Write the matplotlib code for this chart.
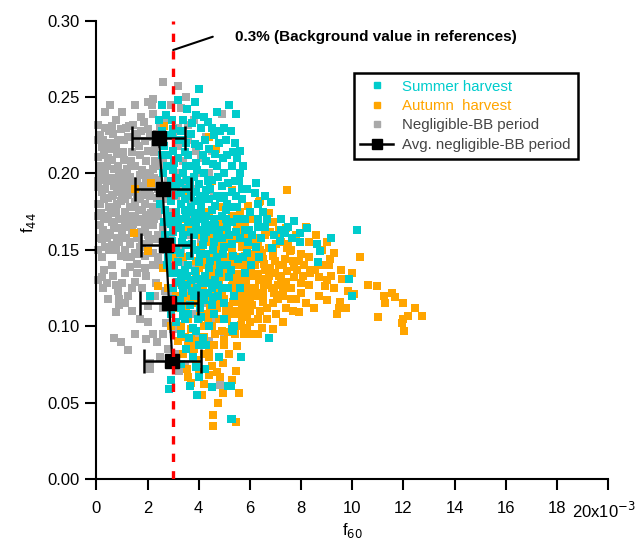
import numpy as np
import matplotlib
matplotlib.use('Agg')
import matplotlib.pyplot as plt
import matplotlib.transforms as mtransforms
from matplotlib.lines import Line2D

plt.rcParams['font.family'] = ['Liberation Sans', 'DejaVu Sans']

# f60 values are written in units of 1e-3, f44 as plain fraction
gray_pts = [
    (2.59, 0.260), (3.19, 0.257), (2.03, 0.247), (2.22, 0.249), (2.18, 0.245), (0.54, 0.245), (0.78, 0.235),
    (1.76, 0.237), (2.22, 0.239), (1.29, 0.231), (0.50, 0.228), (0.07, 0.232), (2.03, 0.229), (4.92, 0.239),
    (2.70, 0.235), (3.30, 0.243), (3.60, 0.232),
    (0.54, 0.220), (1.09, 0.222), (1.60, 0.226), (1.90, 0.221), (0.07, 0.211), (0.50, 0.216), (0.31, 0.204),
    (0.10, 0.200), (0.70, 0.203), (1.09, 0.209), (1.40, 0.214), (1.70, 0.212), (2.00, 0.215), (2.30, 0.208),
    (1.20, 0.203), (0.90, 0.198), (1.50, 0.205), (1.80, 0.202), (2.10, 0.200), (2.50, 0.205), (2.80, 0.212),
    (3.20, 0.218), (3.60, 0.222), (3.90, 0.215), (4.30, 0.224), (0.30, 0.212),
    (0.07, 0.191), (0.07, 0.180), (0.19, 0.174), (0.15, 0.166), (0.47, 0.161), (0.58, 0.174), (0.90, 0.190),
    (1.00, 0.186), (1.13, 0.165), (1.33, 0.154), (1.68, 0.168), (1.80, 0.154), (0.40, 0.195), (0.60, 0.185),
    (0.80, 0.180), (1.20, 0.193), (1.40, 0.188), (1.60, 0.195), (1.90, 0.190), (2.10, 0.185), (2.30, 0.192),
    (1.30, 0.178), (1.50, 0.172), (1.80, 0.176), (2.00, 0.170), (2.20, 0.178), (2.40, 0.172), (0.90, 0.170),
    (1.10, 0.175), (0.30, 0.183), (0.70, 0.165), (1.00, 0.160), (1.40, 0.162), (1.70, 0.183), (2.50, 0.183),
    (2.60, 0.165), (2.80, 0.195), (2.90, 0.175), (3.10, 0.185), (3.30, 0.170), (3.50, 0.195), (3.70, 0.180),
    (2.00, 0.160), (2.30, 0.157), (2.60, 0.150),
    (0.40, 0.205), (0.60, 0.209), (0.80, 0.213), (1.00, 0.200), (1.30, 0.198), (1.70, 0.199), (2.00, 0.195),
    (2.20, 0.203), (0.20, 0.188), (0.50, 0.178), (0.70, 0.192), (1.10, 0.183), (1.50, 0.181), (1.90, 0.180),
    (2.40, 0.196), (0.30, 0.170), (0.60, 0.168), (0.80, 0.158), (1.20, 0.168), (1.60, 0.158), (1.90, 0.165),
    (2.20, 0.166), (2.40, 0.160), (1.10, 0.150), (1.50, 0.148), (1.90, 0.146), (0.60, 0.140), (0.40, 0.158),
    (2.70, 0.183), (2.90, 0.160), (3.10, 0.200), (3.40, 0.208), (3.60, 0.160), (3.90, 0.190), (4.20, 0.175),
    (4.40, 0.200), (4.60, 0.185), (4.00, 0.130), (4.30, 0.115), (3.80, 0.108), (0.05, 0.150), (0.05, 0.130),
    (0.90, 0.155), (0.50, 0.150), (0.20, 0.145), (0.30, 0.137), (1.20, 0.145), (1.60, 0.141), (1.36, 0.145),
    (1.91, 0.138), (1.95, 0.133), (1.52, 0.129), (1.60, 0.135), (2.34, 0.128), (0.23, 0.132), (0.27, 0.125),
    (0.86, 0.123), (0.90, 0.118), (0.90, 0.114), (1.13, 0.115), (0.78, 0.109), (2.03, 0.113), (2.10, 0.118),
    (2.50, 0.140), (2.20, 0.148), (3.00, 0.135), (3.30, 0.150), (3.50, 0.125), (3.00, 0.120), (2.70, 0.123),
    (3.80, 0.140), (4.10, 0.155), (1.10, 0.135), (1.40, 0.125),
    (2.03, 0.1025), (0.70, 0.092), (0.97, 0.0895), (1.25, 0.0842), (1.95, 0.0914), (2.38, 0.0895),
    (2.10, 0.0757), (2.10, 0.072), (2.73, 0.102), (3.24, 0.0705), (3.47, 0.075), (3.59, 0.088),
    (4.85, 0.0613), (5.00, 0.094), (3.20, 0.082), (2.60, 0.095), (4.00, 0.093),
    (0.15, 0.225), (0.35, 0.230), (0.65, 0.226), (0.95, 0.229), (1.25, 0.224), (1.45, 0.232), (1.85, 0.234),
    (2.35, 0.226), (0.20, 0.217), (0.45, 0.210), (0.75, 0.218), (1.05, 0.214), (1.35, 0.208), (1.65, 0.218),
    (1.95, 0.208), (2.25, 0.214), (2.55, 0.219), (0.15, 0.205), (0.55, 0.197), (0.85, 0.205), (1.15, 0.197),
    (1.45, 0.195), (1.75, 0.192), (2.05, 0.188), (2.35, 0.184), (0.25, 0.196), (0.35, 0.190), (0.65, 0.186),
    (0.95, 0.182), (1.25, 0.186), (1.55, 0.188), (1.85, 0.186), (2.15, 0.193), (0.15, 0.180), (0.45, 0.172),
    (0.75, 0.175), (1.05, 0.170), (1.35, 0.172), (1.65, 0.176), (1.95, 0.173), (2.25, 0.170), (0.25, 0.163),
    (0.55, 0.160), (0.85, 0.164), (1.15, 0.158), (1.45, 0.167), (1.75, 0.162), (2.05, 0.155), (2.45, 0.177),
    (0.35, 0.152), (0.75, 0.150), (1.30, 0.139), (1.70, 0.152), (2.40, 0.145), (0.10, 0.158), (0.65, 0.133),
    (1.00, 0.128), (1.25, 0.120), (0.45, 0.118), (2.60, 0.112), (2.40, 0.190), (2.60, 0.210), (3.00, 0.225),
    (3.40, 0.190), (3.80, 0.170), (4.00, 0.200), (3.20, 0.145), (2.80, 0.140), (3.40, 0.160), (4.40, 0.140),
    (4.80, 0.165), (3.60, 0.115), (3.00, 0.098), (2.80, 0.085), (4.40, 0.090), (4.60, 0.105), (0.35, 0.240),
    (1.00, 0.240), (1.50, 0.245), (2.50, 0.230),
    (0.05, 0.222), (0.05, 0.195), (0.05, 0.172), (0.25, 0.222), (0.60, 0.231), (0.85, 0.222), (1.15, 0.230),
    (1.55, 0.220), (1.75, 0.228), (2.10, 0.224), (2.30, 0.219), (0.35, 0.200), (0.65, 0.197), (0.95, 0.193),
    (1.25, 0.190), (1.60, 0.184), (1.95, 0.197), (2.25, 0.197), (0.45, 0.184), (0.80, 0.188), (1.15, 0.188),
    (1.45, 0.178), (1.75, 0.170), (2.15, 0.174), (0.20, 0.157), (0.60, 0.153), (0.95, 0.146), (1.30, 0.155),
    (1.65, 0.147), (2.20, 0.140), (0.40, 0.128), (0.75, 0.127), (1.80, 0.125), (2.30, 0.120), (1.40, 0.110),
    (1.70, 0.105), (2.20, 0.095), (1.50, 0.095), (2.50, 0.080), (2.90, 0.205), (3.20, 0.230), (2.90, 0.245),
    (3.50, 0.250), (3.80, 0.235), (4.10, 0.210), (4.50, 0.215), (4.10, 0.185), (4.40, 0.165), (3.50, 0.140),
    (3.90, 0.120),
]

autumn_pts = [
    (2.65, 0.231), (4.41, 0.224), (4.69, 0.216), (2.15, 0.194), (1.48, 0.161), (5.31, 0.189), (1.50, 0.190),
    (2.03, 0.149), (2.59, 0.138), (2.42, 0.126), (7.44, 0.189), (6.40, 0.182), (6.75, 0.174), (7.40, 0.164),
    (5.00, 0.200), (4.50, 0.195), (3.80, 0.205), (3.50, 0.185), (4.90, 0.178), (5.60, 0.175), (6.10, 0.170),
    (3.30, 0.170),
    (5.50, 0.165), (5.90, 0.160), (6.30, 0.158), (6.80, 0.162), (7.20, 0.155), (7.60, 0.150), (8.00, 0.147),
    (4.50, 0.160), (4.90, 0.155), (5.30, 0.150), (5.70, 0.152), (6.10, 0.147), (6.50, 0.144), (6.90, 0.149),
    (7.30, 0.140), (7.70, 0.143), (8.10, 0.140), (3.80, 0.150), (4.20, 0.145), (4.60, 0.148), (5.00, 0.142),
    (5.40, 0.140), (5.80, 0.144), (6.20, 0.140), (6.60, 0.137), (7.00, 0.135), (8.56, 0.137), (8.40, 0.137),
    (8.09, 0.133), (7.74, 0.132), (7.42, 0.129), (7.23, 0.131), (7.74, 0.1385), (7.15, 0.140), (7.93, 0.143),
    (7.38, 0.144), (7.58, 0.149), (6.92, 0.146), (6.57, 0.141), (6.80, 0.138), (6.33, 0.154), (6.49, 0.148),
    (6.76, 0.151), (7.03, 0.154), (7.46, 0.151), (6.76, 0.174), (6.37, 0.181), (5.94, 0.179), (7.15, 0.163),
    (7.50, 0.154), (5.82, 0.146), (5.55, 0.140), (6.14, 0.142),
    (3.20, 0.135), (3.60, 0.130), (4.00, 0.138), (4.40, 0.133), (4.80, 0.128), (5.20, 0.132), (5.60, 0.128),
    (6.00, 0.133), (3.40, 0.120), (3.80, 0.125), (4.20, 0.120), (4.60, 0.123), (5.00, 0.118), (5.40, 0.122),
    (5.80, 0.117), (6.20, 0.125), (6.06, 0.133), (5.70, 0.133), (5.59, 0.125), (5.35, 0.116), (5.35, 0.130),
    (6.64, 0.131), (6.52, 0.1215), (6.52, 0.116), (6.68, 0.112), (6.02, 0.121), (6.02, 0.119), (5.86, 0.112),
    (5.90, 0.108), (5.70, 0.106), (5.66, 0.101), (5.59, 0.108), (6.88, 0.125), (7.07, 0.1205), (7.11, 0.118),
    (3.00, 0.112), (3.50, 0.110), (3.90, 0.115), (4.30, 0.108), (4.70, 0.112), (5.10, 0.105), (5.50, 0.110),
    (4.00, 0.105), (4.50, 0.100), (4.90, 0.097), (5.30, 0.100), (3.70, 0.098), (4.20, 0.093), (4.60, 0.088),
    (3.30, 0.100), (2.80, 0.125), (3.00, 0.145),
    (10.32, 0.145), (10.63, 0.127), (10.98, 0.126), (11.57, 0.1215), (11.69, 0.119), (11.26, 0.120),
    (11.30, 0.115), (12.00, 0.115), (12.47, 0.112), (12.74, 0.1065), (12.19, 0.107), (12.00, 0.105),
    (11.96, 0.102), (12.02, 0.097), (11.02, 0.106), (9.14, 0.144), (9.57, 0.137), (9.60, 0.131),
    (9.77, 0.131), (9.18, 0.133), (8.95, 0.126), (9.85, 0.123), (10.08, 0.121), (9.53, 0.116), (9.47, 0.112),
    (9.77, 0.112), (9.42, 0.108), (7.93, 0.109), (7.03, 0.108), (6.68, 0.1045), (6.49, 0.099), (5.90, 0.099),
    (5.78, 0.095), (5.51, 0.087), (5.47, 0.071), (5.59, 0.056), (5.47, 0.037),
    (8.80, 0.150), (9.30, 0.148), (8.30, 0.155), (9.00, 0.155), (8.60, 0.160), (8.20, 0.165),
    (4.57, 0.042), (4.57, 0.035), (4.77, 0.0495), (4.96, 0.056), (4.14, 0.055), (3.70, 0.063), (4.84, 0.067),
    (4.41, 0.068), (4.53, 0.074), (4.96, 0.076), (3.55, 0.072), (3.59, 0.067), (3.40, 0.082), (4.22, 0.082),
    (3.90, 0.078), (5.20, 0.082), (4.00, 0.070), (3.20, 0.090), (3.60, 0.087), (5.00, 0.088),
    (4.70, 0.140), (5.10, 0.136), (5.50, 0.134), (5.90, 0.138), (6.30, 0.134), (6.70, 0.129), (7.10, 0.127),
    (7.60, 0.125), (8.00, 0.122), (4.30, 0.128), (4.90, 0.123), (5.30, 0.126), (5.70, 0.121), (6.10, 0.114),
    (6.40, 0.110), (6.90, 0.115), (7.40, 0.112), (7.80, 0.118), (8.30, 0.127), (8.70, 0.120), (9.00, 0.117),
    (3.90, 0.133), (4.50, 0.117), (5.20, 0.113), (5.60, 0.116), (4.80, 0.105), (5.40, 0.095), (5.00, 0.091),
    (6.00, 0.103), (6.30, 0.095), (4.20, 0.100), (3.60, 0.105), (3.70, 0.092), (4.40, 0.080), (4.70, 0.070),
    (5.30, 0.065), (4.20, 0.062), (3.80, 0.085), (6.40, 0.150), (6.00, 0.153), (5.60, 0.157), (5.20, 0.145),
    (6.60, 0.160), (7.00, 0.143), (7.80, 0.160), (8.30, 0.145), (8.70, 0.132), (8.00, 0.128), (9.30, 0.125),
    (6.90, 0.168), (6.30, 0.165), (5.80, 0.168), (5.30, 0.172), (4.80, 0.168), (4.40, 0.175), (4.00, 0.160),
    (3.60, 0.165), (3.40, 0.145), (3.10, 0.128), (2.90, 0.100), (5.90, 0.125), (6.50, 0.118), (7.30, 0.120),
    (8.50, 0.112), (9.10, 0.140), (10.00, 0.135),
    (4.10, 0.152), (4.40, 0.155), (4.80, 0.150), (5.15, 0.155), (5.45, 0.145), (5.75, 0.140), (6.05, 0.137),
    (6.35, 0.130), (6.75, 0.133), (7.15, 0.133), (7.45, 0.136), (7.85, 0.137), (4.30, 0.140), (4.60, 0.135),
    (4.95, 0.132), (5.25, 0.137), (5.55, 0.130), (5.85, 0.130), (6.25, 0.120), (6.55, 0.127), (6.95, 0.122),
    (7.30, 0.125), (4.15, 0.125), (4.45, 0.112), (4.75, 0.116), (5.05, 0.110), (5.35, 0.108), (5.70, 0.113),
    (6.00, 0.110), (6.30, 0.105), (3.75, 0.118), (4.05, 0.110), (4.35, 0.103), (4.65, 0.095), (5.15, 0.096),
    (5.60, 0.100), (6.10, 0.095), (3.90, 0.090), (4.40, 0.085), (3.45, 0.093), (3.35, 0.115), (3.60, 0.120),
    (3.10, 0.120), (3.90, 0.143), (4.55, 0.165), (5.05, 0.162), (5.75, 0.162), (6.10, 0.155), (6.55, 0.165),
    (7.05, 0.160), (5.40, 0.158), (8.35, 0.135), (8.80, 0.140), (9.00, 0.130), (8.20, 0.115), (7.70, 0.110),
    (7.30, 0.103), (6.90, 0.098), (7.60, 0.118),
]

summer_pts = [
    (4.02, 0.255), (3.87, 0.247), (2.58, 0.245), (3.55, 0.242), (3.90, 0.238), (5.47, 0.239), (4.38, 0.234),
    (2.46, 0.235), (2.74, 0.238), (3.40, 0.235), (3.00, 0.229), (3.30, 0.228), (3.70, 0.226), (4.10, 0.230),
    (4.60, 0.225), (2.70, 0.225), (3.10, 0.222), (3.50, 0.220), (4.00, 0.218), (4.40, 0.216), (4.80, 0.220),
    (5.43, 0.220), (5.63, 0.215), (5.63, 0.200), (5.56, 0.195), (5.10, 0.212), (5.30, 0.205),
    (2.80, 0.212), (3.20, 0.210), (3.60, 0.212), (3.90, 0.207), (4.30, 0.208), (4.70, 0.205), (5.00, 0.200),
    (2.60, 0.200), (3.00, 0.202), (3.40, 0.200), (3.80, 0.198), (4.20, 0.200), (4.50, 0.196), (4.90, 0.192),
    (5.30, 0.188), (2.70, 0.190), (3.10, 0.192), (3.50, 0.190), (3.90, 0.188), (4.30, 0.189), (4.70, 0.185),
    (5.10, 0.180), (5.50, 0.178), (2.50, 0.180), (2.90, 0.182), (3.30, 0.180), (3.70, 0.178), (4.10, 0.180),
    (4.50, 0.176), (4.90, 0.172), (5.30, 0.168), (2.80, 0.172), (3.20, 0.170), (3.60, 0.168), (4.00, 0.170),
    (4.40, 0.166), (4.80, 0.163), (5.20, 0.160), (5.60, 0.158), (3.00, 0.162), (3.40, 0.160), (3.80, 0.160),
    (4.20, 0.158), (4.60, 0.155), (5.00, 0.152), (5.96, 0.163), (6.25, 0.1935), (5.90, 0.190), (6.84, 0.181),
    (6.68, 0.170), (6.33, 0.170), (7.23, 0.170), (7.74, 0.169), (6.60, 0.165), (8.24, 0.164), (10.20, 0.163),
    (9.18, 0.158), (8.64, 0.154), (7.97, 0.161), (7.35, 0.161), (8.75, 0.149), (8.68, 0.142), (9.89, 0.131),
    (10.00, 0.120), (7.23, 0.163), (7.38, 0.161), (7.97, 0.155), (7.66, 0.158), (7.19, 0.156), (6.45, 0.158),
    (5.92, 0.155), (6.25, 0.152), (5.82, 0.163), (5.55, 0.144), (6.88, 0.151), (6.00, 0.175), (5.70, 0.183),
    (6.30, 0.180),
    (3.00, 0.215), (3.50, 0.205), (4.00, 0.193), (4.40, 0.183), (3.30, 0.187), (3.70, 0.185), (2.90, 0.195),
    (3.60, 0.175), (4.10, 0.175), (3.20, 0.165), (2.70, 0.160), (4.60, 0.170), (5.00, 0.185), (5.40, 0.195),
    (3.90, 0.165), (4.30, 0.172), (3.10, 0.150), (3.50, 0.153), (3.90, 0.150), (4.30, 0.147), (4.70, 0.145),
    (5.10, 0.140),
    (2.80, 0.145), (3.20, 0.142), (3.60, 0.140), (4.00, 0.142), (4.40, 0.138), (4.80, 0.135), (5.20, 0.132),
    (2.90, 0.135), (3.30, 0.132), (3.70, 0.130), (4.10, 0.128), (4.50, 0.125), (3.00, 0.125), (3.40, 0.122),
    (3.80, 0.120), (4.20, 0.118), (5.39, 0.120), (4.53, 0.114), (4.22, 0.117), (2.11, 0.120),
    (3.48, 0.1045), (3.98, 0.105), (3.76, 0.099), (3.61, 0.092), (4.18, 0.092), (4.30, 0.088), (4.00, 0.088),
    (5.35, 0.097), (5.39, 0.100), (5.66, 0.080), (3.79, 0.080), (4.26, 0.072), (4.02, 0.067), (3.67, 0.061),
    (3.95, 0.055), (4.53, 0.060), (5.16, 0.061), (5.27, 0.039), (2.93, 0.065), (2.85, 0.059), (3.12, 0.103),
    (6.76, 0.092), (5.30, 0.098), (5.25, 0.061), (5.31, 0.039), (3.30, 0.112), (2.90, 0.108), (3.50, 0.085),
    (2.65, 0.218), (3.05, 0.207), (3.45, 0.214), (3.85, 0.219), (4.25, 0.222), (4.65, 0.213), (5.05, 0.222),
    (2.75, 0.205), (3.15, 0.197), (3.55, 0.196), (3.95, 0.202), (4.35, 0.195), (4.75, 0.198), (5.15, 0.194),
    (5.50, 0.210), (2.60, 0.187), (3.05, 0.186), (3.45, 0.183), (3.85, 0.182), (4.25, 0.184), (4.65, 0.179),
    (5.05, 0.176), (5.45, 0.185), (2.70, 0.176), (3.10, 0.175), (3.50, 0.171), (3.90, 0.174), (4.30, 0.162),
    (4.70, 0.160), (5.10, 0.165), (5.50, 0.170), (2.90, 0.167), (3.30, 0.164), (3.70, 0.162), (4.10, 0.163),
    (4.50, 0.163), (4.90, 0.158), (5.30, 0.154), (2.95, 0.156), (3.35, 0.155), (3.75, 0.154), (4.15, 0.153),
    (4.55, 0.150), (4.95, 0.147), (5.35, 0.146), (2.85, 0.150), (3.25, 0.148), (3.65, 0.146), (4.05, 0.147),
    (4.45, 0.143), (4.85, 0.140), (5.25, 0.137), (3.05, 0.139), (3.45, 0.137), (3.85, 0.136), (4.25, 0.133),
    (4.65, 0.130), (3.15, 0.129), (3.55, 0.127), (3.95, 0.125), (4.35, 0.122), (4.75, 0.120), (3.25, 0.117),
    (3.65, 0.114), (4.05, 0.112), (3.60, 0.108), (4.60, 0.108), (5.80, 0.170), (6.10, 0.160), (6.50, 0.175),
    (5.90, 0.148), (6.20, 0.187), (5.75, 0.205), (5.00, 0.230), (5.20, 0.245), (4.70, 0.240), (3.20, 0.248),
    (6.30, 0.165), (5.80, 0.135), (5.60, 0.125), (4.90, 0.125), (4.40, 0.100), (3.90, 0.097), (3.30, 0.095),
    (4.80, 0.080), (3.90, 0.073), (3.30, 0.075),
    (2.55, 0.228), (2.95, 0.235), (3.35, 0.222), (3.75, 0.233), (4.20, 0.237), (4.50, 0.230), (4.85, 0.228),
    (5.25, 0.228), (2.55, 0.212), (2.95, 0.225), (3.75, 0.205), (4.15, 0.212), (4.55, 0.206), (4.95, 0.210),
    (5.35, 0.214), (2.80, 0.192), (3.25, 0.194), (3.65, 0.193), (4.05, 0.185), (4.45, 0.190), (4.85, 0.184),
    (5.25, 0.178), (5.70, 0.190), (2.65, 0.168), (3.05, 0.170), (3.45, 0.176), (3.85, 0.170), (4.25, 0.167),
    (4.65, 0.166), (5.05, 0.170), (5.45, 0.162), (2.75, 0.140), (3.15, 0.135), (3.55, 0.133), (3.95, 0.131),
    (4.35, 0.128), (4.75, 0.127), (5.15, 0.125), (2.95, 0.118), (3.35, 0.127), (3.75, 0.123), (4.15, 0.122),
    (4.55, 0.119), (5.00, 0.115), (5.00, 0.105), (4.10, 0.106), (3.40, 0.107), (5.75, 0.145), (6.05, 0.140),
    (6.35, 0.145), (6.60, 0.185), (6.95, 0.160), (7.50, 0.165),
]

# averages of the negligible-BB period
avg_f60 = [2.44, 2.59, 2.71, 2.84, 2.97]
avg_f44 = [0.2232, 0.1898, 0.1531, 0.1154, 0.0772]
avg_err = [1.04, 1.09, 0.98, 1.15, 1.10]

bg_value = 3.0  # 0.3 % background in references
x_ticks = [0, 2, 4, 6, 8, 10, 12, 14, 16, 18, 20]
x_ticklabels = ['0', '2', '4', '6', '8', '10', '12', '14', '16', '18', '20x10$^{-3}$']
y_ticks = [0.00, 0.05, 0.10, 0.15, 0.20, 0.25, 0.30]

c_summer = '#00CCCC'
c_autumn = '#FFA500'
c_gray = '#A9A9A9'


def unpack(pts):
    a = np.array(pts)
    return a[:, 0] * 1e-3, a[:, 1]


fig = plt.figure(figsize=(6.38, 5.43), dpi=100)
ax = fig.add_axes([0.1511, 0.1179, 0.8019, 0.8440])

gx, gy = unpack(gray_pts)
ox, oy = unpack(autumn_pts)
sx, sy = unpack(summer_pts)
ms = 34
ax.scatter(gx, gy, s=ms, marker='s', color=c_gray, linewidths=0, zorder=1, clip_on=False)
ax.scatter(ox, oy, s=ms, marker='s', color=c_autumn, linewidths=0, zorder=2)
ax.scatter(sx, sy, s=ms, marker='s', color=c_summer, linewidths=0, zorder=3)

ax.errorbar(np.array(avg_f60) * 1e-3, avg_f44, xerr=np.array(avg_err) * 1e-3,
            color='black', marker='s', markersize=10, linewidth=1.6, elinewidth=1.8,
            capsize=8.5, capthick=1.8, zorder=4)

ax.axvline(bg_value * 1e-3, color='red', linewidth=2.4, linestyle=(0, (2.5, 2.75)), zorder=5)

ax.annotate('', xy=(bg_value * 1e-3, 0.2808), xytext=(0.00455, 0.2895),
            arrowprops=dict(arrowstyle='-', color='black', linewidth=1.5, shrinkA=0, shrinkB=0))
ax.text(0.00542, 0.2893, '0.3% (Background value in references)', fontsize=11,
        fontweight='bold', va='center', ha='left')

ax.set_xlim(0, 0.020)
ax.set_ylim(0, 0.30)
ax.set_xticks(np.array(x_ticks) * 1e-3)
ax.set_xticklabels(x_ticklabels)
ax.set_yticks(y_ticks)
ax.set_yticklabels(['%.2f' % v for v in y_ticks])
ax.tick_params(direction='out', length=8, width=1.5, labelsize=12)
ax.tick_params(axis='x', pad=8)
ax.tick_params(axis='y', pad=4)
# the last x label carries the exponent; nudge it a little left so it stays inside the figure
last = ax.get_xticklabels()[-1]
last.set_transform(last.get_transform() + mtransforms.ScaledTranslation(-3 / 72, 0, fig.dpi_scale_trans))
for side in ['top', 'right']:
    ax.spines[side].set_visible(False)
for side in ['left', 'bottom']:
    ax.spines[side].set_linewidth(1.5)

ax.set_xlabel('f$_{60}$', fontsize=12, labelpad=0)
ax.set_ylabel('f$_{44}$', fontsize=12)
ax.yaxis.set_label_coords(-0.115, 0.56)

handles = [
    Line2D([], [], linestyle='none', marker='s', markersize=5, color=c_summer),
    Line2D([], [], linestyle='none', marker='s', markersize=5, color=c_autumn),
    Line2D([], [], linestyle='none', marker='s', markersize=5, color=c_gray),
    Line2D([], [], linestyle='-', linewidth=1.8, marker='s', markersize=7, color='black'),
]
labels = ['Summer harvest', 'Autumn  harvest', 'Negligible-BB period', 'Avg. negligible-BB period']
leg = ax.legend(handles, labels, loc='upper left', bbox_to_anchor=(0.503, 0.886), fontsize=10.8,
                frameon=True, fancybox=False, edgecolor='black', framealpha=1,
                handlelength=2.2, handletextpad=0.6, labelspacing=0.36, borderpad=0.45,
                borderaxespad=0)
leg.get_frame().set_linewidth(1.8)
for t, c in zip(leg.get_texts(), [c_summer, c_autumn, '#444444', '#444444']):
    t.set_color(c)

fig.savefig('out.png', dpi=100)
